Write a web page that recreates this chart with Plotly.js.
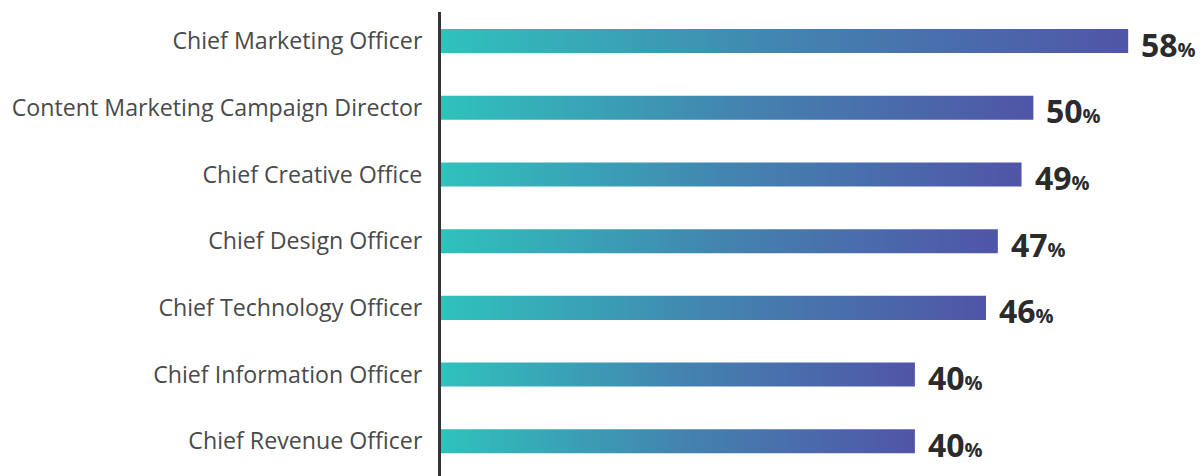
<!DOCTYPE html>
<html>
<head>
<meta charset="utf-8">
<script src="https://cdn.plot.ly/plotly-3.0.1.min.js"></script>
<style>html,body{margin:0;padding:0;background:#fff;}#chart{width:1204px;height:476px;}</style>
</head>
<body>
<div id="chart"></div>
<script>
const categories = [
  "Chief Marketing Officer",
  "Content Marketing Campaign Director",
  "Chief Creative Office",
  "Chief Design Officer",
  "Chief Technology Officer",
  "Chief Information Officer",
  "Chief Revenue Officer"
];
const values = [58, 50, 49, 47, 46, 40, 40];
const valueLabels = ["58", "50", "49", "47", "46", "40", "40"];

const half = 0.18;
const traces = values.map((v, i) => ({
  type: 'scatter',
  mode: 'lines',
  x: [0, v, v, 0, 0],
  y: [i - half, i - half, i + half, i + half, i - half],
  fill: 'toself',
  line: {width: 0},
  fillgradient: {type: 'horizontal', colorscale: [[0, '#2fc2bc'], [0.5, '#4384b0'], [1, '#5055a7']]},
  hoverinfo: 'skip',
  showlegend: false
}));

const annotations = values.map((v, i) => ({
  x: v, y: i, xref: 'x', yref: 'y',
  xanchor: 'left', yanchor: 'middle',
  xshift: 11, yshift: -3,
  showarrow: false,
  text: '<b>' + valueLabels[i] + '</b><b><span style="font-size:20px">%</span></b>',
  font: {family: 'Open Sans, sans-serif', size: 32, color: '#2b2b2b'}
}));

const layout = {
  width: 1204, height: 476,
  margin: {l: 441, r: 0, t: 12, b: 0},
  paper_bgcolor: '#fff', plot_bgcolor: '#fff',
  xaxis: {range: [0, 64.4], visible: false, fixedrange: true},
  yaxis: {
    range: [6.52, -0.435],
    tickvals: categories.map((c, i) => i),
    ticktext: categories,
    showgrid: false, zeroline: false,
    showline: true, linecolor: '#333', linewidth: 3,
    ticks: '', ticklabelstandoff: 11,
    tickfont: {family: 'Open Sans, sans-serif', size: 23.2, color: '#4a4a4a'},
    fixedrange: true
  },
  annotations: annotations,
  showlegend: false
};

Plotly.newPlot('chart', traces, layout, {displayModeBar: false, staticPlot: true});
</script>
</body>
</html>
